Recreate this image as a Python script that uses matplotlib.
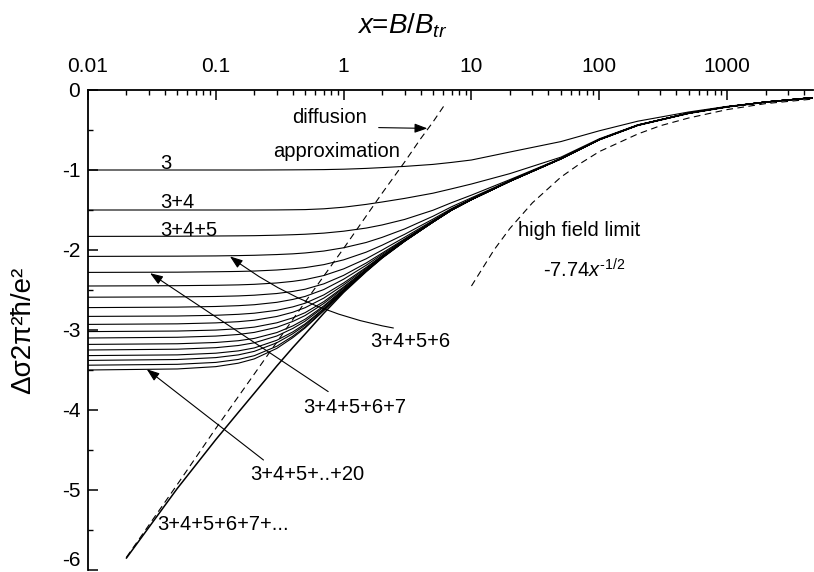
import numpy as np
import matplotlib
matplotlib.use('Agg')
import matplotlib.pyplot as plt
from matplotlib.ticker import LogLocator, NullFormatter, MultipleLocator

plt.rcParams['font.family'] = ['Liberation Sans', 'DejaVu Sans']
plt.rcParams['axes.unicode_minus'] = False
plt.rcParams['mathtext.fontset'] = 'custom'
plt.rcParams['mathtext.rm'] = 'Liberation Sans'
plt.rcParams['mathtext.it'] = 'Liberation Sans:italic'

# ---------------- data ----------------
x_grid = [0.01, 0.05, 0.1, 0.15, 0.2, 0.3, 0.4, 0.5, 0.7, 1, 1.5, 2, 3, 5, 7,
          10, 20, 50, 100, 200, 500, 1000, 2000, 4700]

sum_3 = [-1.0, -1.0, -1.0, -1.0, -1.0, -0.999, -0.998, -0.997, -0.995, -0.99, -0.98, -0.97,
         -0.955, -0.93, -0.905, -0.875, -0.775, -0.645, -0.51, -0.39, -0.275, -0.205, -0.15, -0.095]
sum_4 = [-1.5, -1.5, -1.5, -1.5, -1.5, -1.499, -1.497, -1.495, -1.485, -1.465, -1.43, -1.40,
         -1.355, -1.29, -1.235, -1.175, -1.045, -0.84, -0.61, -0.435, -0.29, -0.21, -0.15, -0.095]
sum_5 = [-1.83, -1.828, -1.825, -1.823, -1.821, -1.815, -1.809, -1.803, -1.789, -1.765, -1.726, -1.687,
         -1.618, -1.503, -1.408, -1.314, -1.12, -0.855, -0.62, -0.44, -0.29, -0.21, -0.15, -0.095]
sum_6 = [-2.08, -2.077, -2.074, -2.070, -2.066, -2.057, -2.048, -2.037, -2.013, -1.972, -1.906, -1.842,
         -1.737, -1.578, -1.459, -1.347, -1.132, -0.858, -0.62, -0.44, -0.29, -0.21, -0.15, -0.095]
sum_7 = [-2.28, -2.277, -2.272, -2.268, -2.263, -2.25, -2.235, -2.22, -2.183, -2.123, -2.027, -1.94,
         -1.804, -1.614, -1.481, -1.36, -1.137, -0.859, -0.62, -0.44, -0.29, -0.21, -0.15, -0.095]
sum_8 = [-2.45, -2.446, -2.441, -2.436, -2.429, -2.412, -2.392, -2.37, -2.319, -2.236, -2.11, -2.001,
         -1.841, -1.631, -1.49, -1.365, -1.139, -0.86, -0.62, -0.44, -0.29, -0.21, -0.15, -0.095]
sum_9 = [-2.59, -2.586, -2.581, -2.574, -2.565, -2.544, -2.518, -2.49, -2.423, -2.317, -2.163, -2.039,
         -1.862, -1.639, -1.495, -1.367, -1.139, -0.86, -0.62, -0.44, -0.29, -0.21, -0.15, -0.095]
sum_10 = [-2.72, -2.714, -2.706, -2.696, -2.684, -2.654, -2.618, -2.58, -2.494, -2.365, -2.191, -2.055,
          -1.87, -1.643, -1.498, -1.369, -1.14, -0.86, -0.62, -0.44, -0.29, -0.21, -0.15, -0.095]
sum_11 = [-2.83, -2.825, -2.816, -2.804, -2.79, -2.754, -2.711, -2.665, -2.561, -2.412, -2.218, -2.072,
          -1.878, -1.648, -1.498, -1.369, -1.14, -0.86, -0.62, -0.44, -0.29, -0.21, -0.15, -0.095]
sum_12 = [-2.93, -2.923, -2.911, -2.896, -2.878, -2.831, -2.778, -2.721, -2.601, -2.436, -2.229, -2.078,
          -1.881, -1.649, -1.499, -1.37, -1.14, -0.86, -0.62, -0.44, -0.29, -0.21, -0.15, -0.095]
sum_13 = [-3.02, -3.013, -3.001, -2.984, -2.964, -2.91, -2.848, -2.783, -2.645, -2.462, -2.243, -2.086,
          -1.885, -1.648, -1.499, -1.37, -1.14, -0.86, -0.62, -0.44, -0.29, -0.21, -0.15, -0.095]
sum_14 = [-3.10, -3.091, -3.076, -3.056, -3.03, -2.966, -2.893, -2.819, -2.668, -2.474, -2.248, -2.089,
          -1.886, -1.649, -1.5, -1.37, -1.14, -0.86, -0.62, -0.44, -0.29, -0.21, -0.15, -0.095]
sum_15 = [-3.18, -3.172, -3.156, -3.134, -3.105, -3.032, -2.949, -2.865, -2.698, -2.49, -2.253, -2.091,
          -1.887, -1.649, -1.5, -1.37, -1.14, -0.86, -0.62, -0.44, -0.29, -0.21, -0.15, -0.095]
sum_16 = [-3.25, -3.24, -3.221, -3.194, -3.16, -3.075, -2.981, -2.889, -2.712, -2.497, -2.256, -2.093,
          -1.888, -1.65, -1.5, -1.37, -1.14, -0.86, -0.62, -0.44, -0.29, -0.21, -0.15, -0.095]
sum_17 = [-3.32, -3.311, -3.29, -3.261, -3.224, -3.128, -3.024, -2.923, -2.732, -2.506, -2.263, -2.095,
          -1.888, -1.65, -1.5, -1.37, -1.14, -0.86, -0.62, -0.44, -0.29, -0.21, -0.15, -0.095]
sum_18 = [-3.38, -3.369, -3.345, -3.311, -3.267, -3.16, -3.047, -2.939, -2.739, -2.509, -2.264, -2.095,
          -1.888, -1.65, -1.5, -1.37, -1.14, -0.86, -0.62, -0.44, -0.29, -0.21, -0.15, -0.095]
sum_19 = [-3.44, -3.429, -3.405, -3.368, -3.321, -3.203, -3.078, -2.962, -2.752, -2.514, -2.266, -2.096,
          -1.889, -1.65, -1.5, -1.37, -1.14, -0.86, -0.62, -0.44, -0.29, -0.21, -0.15, -0.095]
sum_20 = [-3.50, -3.487, -3.458, -3.415, -3.361, -3.23, -3.096, -2.974, -2.758, -2.517, -2.267, -2.097,
          -1.889, -1.65, -1.5, -1.37, -1.14, -0.86, -0.62, -0.44, -0.29, -0.21, -0.15, -0.095]

# infinite sum 3+4+5+6+7+...
x_inf = [0.02, 0.05, 0.1, 0.15, 0.2, 0.3, 0.4, 0.5, 0.7, 1, 1.5, 2, 3, 5, 7, 10, 20, 50,
         100, 200, 500, 1000, 2000, 4700]
sum_inf = [-5.85, -4.98, -4.37, -4.03, -3.79, -3.45, -3.22, -3.05, -2.79, -2.53, -2.27, -2.10,
           -1.89, -1.65, -1.50, -1.37, -1.14, -0.862, -0.622, -0.442, -0.292, -0.212, -0.152, -0.097]

# diffusion approximation (dashed)
x_diff = [0.02, 0.05, 0.1, 0.2, 0.5, 1, 2, 3, 4, 5, 6.2]
y_diff = [-5.84, -4.93, -4.23, -3.55, -2.65, -1.98, -1.29, -0.90, -0.61, -0.40, -0.18]

# high field limit -7.74 x^-1/2 (dashed)
x_high = [10, 15, 20, 30, 50, 70, 100, 200, 300, 500, 1000, 2000, 4700]
y_high = [-2.45, -2.0, -1.73, -1.41, -1.09, -0.925, -0.77, -0.55, -0.447, -0.35, -0.245, -0.17, -0.113]

x_ticks = [0.01, 0.1, 1, 10, 100, 1000]
x_tick_labels = ['0.01', '0.1', '1', '10', '100', '1000']
y_ticks = [0, -1, -2, -3, -4, -5, -6]
y_tick_labels = ['0', '-1', '-2', '-3', '-4', '-5', '-6']

partial_sums = [sum_3, sum_4, sum_5, sum_6, sum_7, sum_8, sum_9, sum_10, sum_11, sum_12,
                sum_13, sum_14, sum_15, sum_16, sum_17, sum_18, sum_19, sum_20]

# ---------------- figure ----------------
W, H = 814, 572
fig = plt.figure(figsize=(W / 100, H / 100), dpi=100)
ax = fig.add_axes([88 / W, 2 / H, 725 / W, 480 / H])
ax.set_xscale('log')
ax.set_xlim(0.01, 4700)
ax.set_ylim(-6, 0)

for ys in partial_sums:
    ax.plot(x_grid, ys, color='black', lw=0.8, solid_joinstyle='round')
ax.plot(x_inf, sum_inf, color='black', lw=1.1)
ax.plot(x_diff, y_diff, color='black', lw=0.8, dashes=(6, 4))
ax.plot(x_high, y_high, color='black', lw=0.8, dashes=(6, 4))

# axes styling
for s in ['bottom', 'right']:
    ax.spines[s].set_visible(False)
for s in ['top', 'left']:
    ax.spines[s].set_linewidth(1.3)
ax.xaxis.tick_top()
ax.set_xticks(x_ticks, labels=x_tick_labels)
ax.xaxis.set_minor_locator(LogLocator(base=10, subs=np.arange(2, 10), numticks=30))
ax.xaxis.set_minor_formatter(NullFormatter())
ax.set_yticks(y_ticks, labels=y_tick_labels)
ax.yaxis.set_minor_locator(MultipleLocator(0.5))
ax.tick_params(axis='both', which='major', direction='in', length=7, width=1.1, labelsize=15)
ax.tick_params(axis='both', which='minor', direction='in', length=3.5, width=1.0)
ax.tick_params(axis='x', which='major', pad=10)
ax.tick_params(axis='y', which='major', pad=5.5)
for lbl in ax.get_yticklabels():
    if lbl.get_text() == '-6':
        lbl.set_verticalalignment('bottom')

# axis titles
fig.text(357 / W, 1 - 33 / H, r'$x$=$B$/$B_{tr}$', fontsize=20, ha='left', va='baseline')
fig.text(23 / W, 1 - 330 / H, 'Δσ2π²ħ/e²', fontsize=20, rotation=90, ha='center', va='center')

# curve labels
fs = 14.5
ax.text(0.0366, -0.985, '3', fontsize=fs, ha='left', va='baseline')
ax.text(0.0366, -1.475, '3+4', fontsize=fs, ha='left', va='baseline')
ax.text(0.0366, -1.83, '3+4+5', fontsize=fs, ha='left', va='baseline')
ax.text(1.615, -3.21, '3+4+5+6', fontsize=fs, ha='left', va='baseline')
ax.text(0.483, -4.04, '3+4+5+6+7', fontsize=fs, ha='left', va='baseline')
ax.text(0.186, -4.875, '3+4+5+..+20', fontsize=fs, ha='left', va='baseline')
ax.text(0.0347, -5.5, '3+4+5+6+7+...', fontsize=fs, ha='left', va='baseline')
ax.text(0.396, -0.41, 'diffusion', fontsize=fs, ha='left', va='baseline')
ax.text(0.281, -0.833, 'approximation', fontsize=fs, ha='left', va='baseline')
ax.text(23.3, -1.83, 'high field limit', fontsize=fs, ha='left', va='baseline')
ax.text(36.6, -2.34, r'-7.74$\mathit{x}^{\text{-1/2}}$', fontsize=fs, ha='left', va='baseline')

arrow_kw = dict(arrowstyle='-|>,head_length=0.55,head_width=0.2', color='black', lw=0.8,
                shrinkA=0, shrinkB=0, mutation_scale=14)
ax.annotate('', xy=(4.52, -0.48), xytext=(1.88, -0.47), arrowprops=arrow_kw)
ax.annotate('', xy=(0.129, -2.08), xytext=(2.45, -2.975),
            arrowprops=dict(arrow_kw, connectionstyle='arc3,rad=-0.12'))
ax.annotate('', xy=(0.0306, -2.29), xytext=(0.757, -3.77), arrowprops=arrow_kw)
ax.annotate('', xy=(0.0288, -3.49), xytext=(0.236, -4.625), arrowprops=arrow_kw)

fig.savefig('out.png', dpi=100)
